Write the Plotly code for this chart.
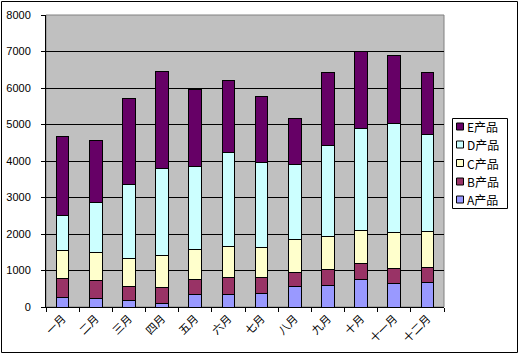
import plotly.graph_objects as go

months = ["一月", "二月", "三月", "四月", "五月", "六月", "七月", "八月", "九月", "十月", "十一月", "十二月"]
prod_a = [255, 220, 183, 100, 356, 338, 374, 557, 584, 767, 639, 685]
prod_b = [520, 510, 374, 440, 400, 466, 430, 393, 448, 420, 411, 393]
prod_c = [770, 760, 785, 860, 830, 867, 820, 886, 895, 904, 987, 986]
prod_d = [950, 1370, 2028, 2385, 2250, 2557, 2340, 2073, 2493, 2786, 2977, 2657]
prod_e = [2165, 1710, 2347, 2655, 2135, 1982, 1810, 1269, 2018, 2128, 1890, 1717]

series_names = ["A产品", "B产品", "C产品", "D产品", "E产品"]
series_colors = ["#9999FF", "#993366", "#FFFFCC", "#CCFFFF", "#660066"]
series_vals = [prod_a, prod_b, prod_c, prod_d, prod_e]

# plot-area geometry in pixels
L, R, T, B = 46, 444, 15, 307
W, H = R - L, B - T


def px(x):
    return (x - L) / W


def py(y):
    return (B - y) / H


fig = go.Figure()
for name, vals, col in zip(series_names, series_vals, series_colors):
    fig.add_trace(go.Bar(
        x=months, y=vals, name=name,
        marker=dict(color=col, line=dict(color="black", width=1)),
    ))

font_cjk = "Noto Sans CJK SC, sans-serif"

shapes = [
    dict(type="rect", xref="paper", yref="paper", x0=0, x1=1, y0=0, y1=1,
         line=dict(color="#808080", width=1), layer="below"),
    dict(type="rect", xref="paper", yref="paper",
         x0=px(1.5), x1=px(517.5), y0=py(352.5), y1=py(1.5),
         line=dict(color="black", width=1)),
    # legend box
    dict(type="rect", xref="paper", yref="paper",
         x0=px(452.5), x1=px(507.5), y0=py(208.5), y1=py(118.5),
         line=dict(color="black", width=1), fillcolor="white"),
]
annotations = []
legend_rows = [126.5, 144.5, 163, 181.5, 199.5]
for i, (name, col) in enumerate(zip(series_names[::-1], series_colors[::-1])):
    yc = legend_rows[i]
    shapes.append(dict(type="rect", xref="paper", yref="paper",
                       x0=px(456.5), x1=px(463.5), y0=py(yc + 3.5), y1=py(yc - 3.5),
                       line=dict(color="black", width=1), fillcolor=col))
    annotations.append(dict(xref="paper", yref="paper", x=px(464.5), y=py(yc),
                            xanchor="left", yanchor="middle", showarrow=False,
                            text=name, font=dict(family=font_cjk, size=12, color="black")))

fig.update_layout(
    width=520, height=355,
    barmode="stack", bargap=0.62,
    paper_bgcolor="white", plot_bgcolor="#C0C0C0",
    margin=dict(l=L, r=520 - R, t=T, b=355 - B, autoexpand=False),
    font=dict(family=font_cjk, size=11, color="black"),
    showlegend=False,
    xaxis=dict(
        type="category", showgrid=False,
        showline=True, linecolor="black", linewidth=1,
        ticks="outside", tickson="boundaries", ticklen=4, tickcolor="black",
        tickangle=-45, tickfont=dict(family=font_cjk, size=11),
    ),
    yaxis=dict(
        range=[0, 8000], dtick=1000,
        showgrid=True, gridcolor="black", gridwidth=1,
        showline=True, linecolor="black", linewidth=1,
        ticks="outside", ticklen=4, tickcolor="black",
        ticklabelstandoff=8,
        tickfont=dict(family="Liberation Sans, Arial, sans-serif", size=11),
        zeroline=False,
    ),
    shapes=shapes,
    annotations=annotations,
)

fig.write_html("out.html", config={"displayModeBar": False},
               post_script="document.body.style.margin='0';document.body.style.overflow='hidden';")
